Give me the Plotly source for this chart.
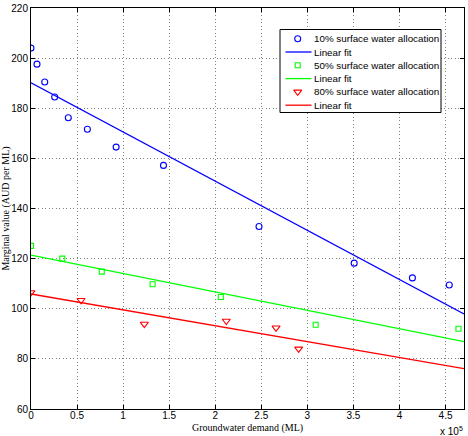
import numpy as np
import plotly.graph_objects as go

# ---- data ----
x10 = [0, 6500, 14900, 25700, 40500, 61200, 92400, 143800, 247500, 350800, 414000, 454000]
y10 = [204.0, 197.6, 190.5, 184.5, 176.2, 171.6, 164.5, 157.2, 132.8, 118.2, 112.3, 109.5]
x50 = [0, 34000, 76800, 132000, 206000, 309000, 464000]
y50 = [125.1, 120.0, 114.8, 109.8, 104.7, 93.6, 92.0]
x80 = [0, 54300, 123000, 212000, 266000, 290500]
y80 = [106.5, 103.4, 93.9, 95.1, 92.4, 84.0]

series_names = ["10% surface water allocation", "50% surface water allocation", "80% surface water allocation"]
fit_name = "Linear fit"
x_title = "Groundwater demand (ML)"
y_title = "Marginal value (AUD per ML)"
x_range = [0, 470000]
y_range = [60, 220]
x_tickvals = [0, 50000, 100000, 150000, 200000, 250000, 300000, 350000, 400000, 450000]
x_ticktext = ["0", "0.5", "1", "1.5", "2", "2.5", "3", "3.5", "4", "4.5"]
y_tickvals = [60, 80, 100, 120, 140, 160, 180, 200, 220]

colors = ["#0000ff", "#00ff00", "#ff0000"]
symbols = ["circle-open", "square-open", "triangle-down-open"]
msizes = [6, 5, 7]

SANS = "Liberation Sans, Arial"
SERIF = "Liberation Serif, Times New Roman"

# ---- layout geometry (pixels) ----
W, H = 468, 436
L, R, T, B = 31, 464, 8, 409

def py2paper(py):
    return (B - py) / (B - T)

fig = go.Figure()
datasets = [(x10, y10), (x50, y50), (x80, y80)]
for (xs, ys), c, s, ms, nm in zip(datasets, colors, symbols, msizes, series_names):
    fig.add_trace(go.Scatter(x=xs, y=ys, mode="markers", name=nm,
                             marker=dict(symbol=s, size=ms, color=c, line=dict(width=1.1, color=c)),
                             showlegend=False))
    k, b0 = np.polyfit(np.array(xs, float), np.array(ys, float), 1)
    fx = np.array(x_range, float)
    fig.add_trace(go.Scatter(x=fx, y=k * fx + b0, mode="lines", name=fit_name,
                             line=dict(color=c, width=1.3), showlegend=False))

# ---- manual MATLAB-like legend on an overlay pixel axis ----
lg_x0, lg_x1, lg_y0, lg_y1 = 280, 441, 29.5, 112.5
row0, row_step = 38.7, 13.3
mk_x, ln_x0, ln_x1, tx_x = 297.7, 285.5, 311.5, 312.5
rows = []
for nm, c, s, ms in zip(series_names, colors, symbols, msizes):
    rows.append(("m", nm, c, s, ms))
    rows.append(("l", fit_name, c, s, ms))

# legend frame (white box with black border)
fig.add_trace(go.Scatter(x=[lg_x0, lg_x1, lg_x1, lg_x0, lg_x0], y=[lg_y0, lg_y0, lg_y1, lg_y1, lg_y0],
                         xaxis="x2", yaxis="y2", mode="lines", fill="toself", fillcolor="white",
                         line=dict(color="black", width=1), showlegend=False, hoverinfo="skip"))
for i, (kind, nm, c, s, ms) in enumerate(rows):
    yy = row0 + i * row_step
    if kind == "m":
        fig.add_trace(go.Scatter(x=[mk_x], y=[yy], xaxis="x2", yaxis="y2", mode="markers",
                                 marker=dict(symbol=s, size=ms, color=c, line=dict(width=1.1, color=c)),
                                 showlegend=False, hoverinfo="skip"))
    else:
        fig.add_trace(go.Scatter(x=[ln_x0, ln_x1], y=[yy, yy], xaxis="x2", yaxis="y2", mode="lines",
                                 line=dict(color=c, width=1.3), showlegend=False, hoverinfo="skip"))
    fig.add_annotation(x=tx_x, y=yy, xref="x2", yref="y2", text=nm, showarrow=False,
                       xanchor="left", yanchor="middle", borderpad=0,
                       font=dict(family=SANS, size=9.8, color="black"))

# x-axis title and exponent label
fig.add_annotation(x=0.5, y=py2paper(427.5), xref="paper", yref="paper", text=x_title,
                   showarrow=False, xanchor="center", yanchor="middle", borderpad=0,
                   font=dict(family=SERIF, size=10, color="black"))
fig.add_annotation(x=1.0, y=py2paper(431), xref="paper", yref="paper",
                   text="x 10<sup>5</sup>", showarrow=False, xanchor="right", yanchor="middle",
                   borderpad=0,
                   font=dict(family=SANS, size=10, color="black"))

axis_common = dict(showline=True, linecolor="black", linewidth=1, mirror="ticks",
                   ticks="inside", ticklen=4, tickcolor="black", tickwidth=1,
                   showgrid=True, gridcolor="#808080", griddash="1px,2.5px", gridwidth=1,
                   zeroline=False,
                   tickfont=dict(family=SANS, size=10, color="black"))

fig.update_layout(
    width=W, height=H,
    margin=dict(l=L, r=W - R, t=T, b=H - B, autoexpand=False),
    paper_bgcolor="white", plot_bgcolor="white",
    showlegend=False,
    xaxis=dict(range=x_range, tickvals=x_tickvals, ticktext=x_ticktext,
               ticklabelstandoff=-3, **axis_common),
    yaxis=dict(range=y_range, tickvals=y_tickvals,
               title=dict(text=y_title, standoff=0,
                          font=dict(family=SERIF, size=10, color="black")),
               **axis_common),
    xaxis2=dict(range=[L, R], overlaying="x", visible=False, fixedrange=True),
    yaxis2=dict(range=[B, T], overlaying="y", visible=False, fixedrange=True),
)

fig.write_html("out.html")
